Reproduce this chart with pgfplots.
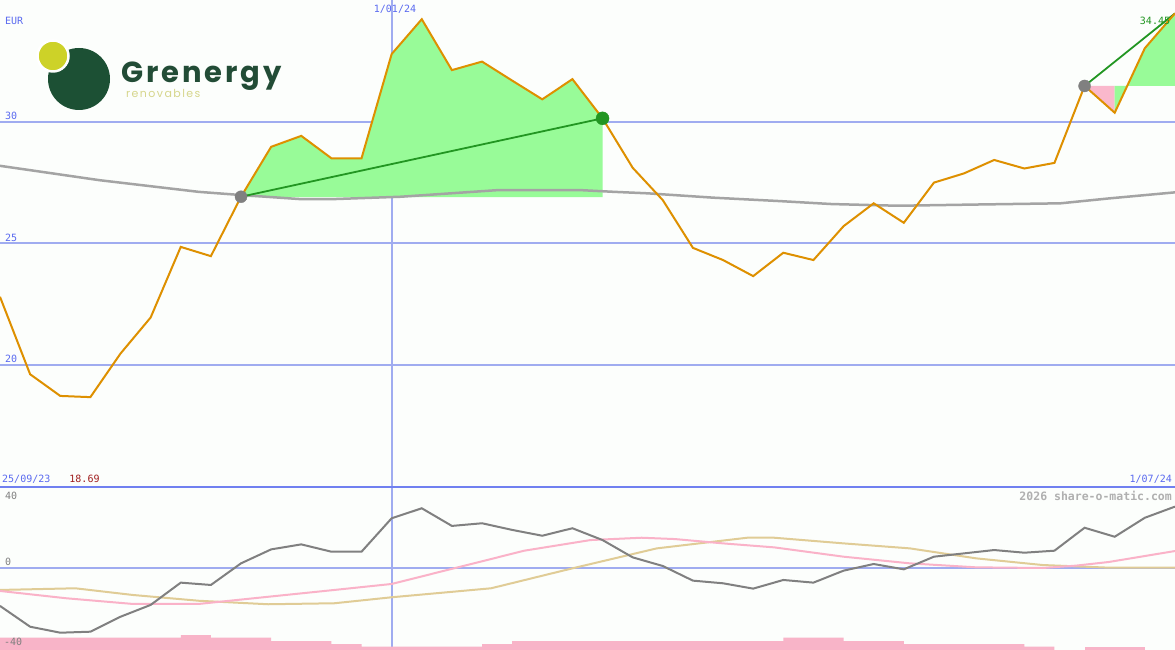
\documentclass[border=0pt]{standalone}
\usepackage{pgfplots}
\pgfplotsset{compat=1.18}
\usepackage{pgfplotstable}
\usepackage{fontspec}
\newfontfamily\chartmono{DejaVu Sans Mono}
\newfontfamily\logofont{Poppins}

\definecolor{bgc}{RGB}{252,254,252}
\definecolor{gridc}{RGB}{160,172,240}
\definecolor{sepc}{RGB}{112,128,240}
\definecolor{labelc}{RGB}{90,106,240}
\definecolor{pricec}{RGB}{222,144,0}
\definecolor{fillg}{RGB}{152,251,152}
\definecolor{fillp}{RGB}{250,184,204}
\definecolor{trendg}{RGB}{34,150,34}
\definecolor{mac}{RGB}{164,164,164}
\definecolor{momc}{RGB}{128,128,128}
\definecolor{pinkc}{RGB}{250,178,200}
\definecolor{tanc}{RGB}{224,204,150}
\definecolor{barc}{RGB}{248,180,200}
\definecolor{minc}{RGB}{160,30,30}
\definecolor{logog}{RGB}{28,80,52}
\definecolor{logoy}{RGB}{205,210,40}
\definecolor{logot}{RGB}{34,76,54}
\definecolor{logor}{RGB}{214,214,140}
\definecolor{wmc}{RGB}{176,176,176}

% daily close, index 0 = 25/09/23
\pgfplotstableread{
x  close
0  22.81
1  19.63
2  18.74
3  18.69
4  20.48
5  21.96
6  24.86
7  24.48
8  26.92
9  28.97
10 29.42
11 28.50
12 28.50
13 32.78
14 34.21
15 32.12
16 32.47
17 31.69
18 30.92
19 31.75
20 30.14
21 28.11
22 26.78
23 24.82
24 24.32
25 23.66
26 24.62
27 24.32
28 25.71
29 26.65
30 25.85
31 27.50
32 27.88
33 28.43
34 28.08
35 28.31
36 31.47
37 30.37
38 33.02
39 34.45
}\pricetab

% momentum
\pgfplotstableread{
x  mom
0  -22.5
1  -35.0
2  -38.6
3  -38.0
4  -29.0
5  -21.9
6  -8.5
7  -9.9
8  3.1
9  11.5
10 14.5
11 10.1
12 10.1
13 30.2
14 36.2
15 25.6
16 27.2
17 23.2
18 19.7
19 24.2
20 17.1
21 6.7
22 1.5
23 -7.3
24 -8.9
25 -12.1
26 -6.9
27 -8.5
28 -1.3
29 2.7
30 -0.5
31 7.1
32 9.1
33 11.1
34 9.5
35 10.7
36 24.5
37 19.1
38 30.5
39 37.2
}\momtab

\begin{document}
\begin{tikzpicture}[x=1pt,y=1pt]
\useasboundingbox (0,0) rectangle (1175,650);
\fill[bgc] (0,0) rectangle (1175,650);

\pgfplotsset{panel/.style={
    scale only axis, width=1175pt,
    xmin=0, xmax=39,
    axis line style={draw=none},
    major tick length=0pt,
    xticklabels={}, yticklabels={},
    xtick={13},
    grid=major,
    major grid style={gridc, line width=2pt},
}}

% price panel
\begin{axis}[panel, at={(0pt,163pt)}, height=487pt,
    ymin=15, ymax=35, ytick={20,25,30}]
\addplot[fill=fillg, draw=none] coordinates {
    (8,26.9) (8,26.92) (9,28.97) (10,29.42) (11,28.50) (12,28.50) (13,32.78)
    (14,34.21) (15,32.12) (16,32.47) (17,31.69) (18,30.92) (19,31.75)
    (20,30.14) (20,26.9)} -- cycle;
\addplot[fill=fillp, draw=none] coordinates {
    (36,31.47) (37,30.37) (37,31.47)} -- cycle;
\addplot[fill=fillg, draw=none] coordinates {
    (37,31.47) (37,30.37) (38,33.02) (39,34.45) (39,31.47)} -- cycle;
% long moving average
\addplot[mac, line width=2.5pt] coordinates {
    (0,28.19) (3.3,27.60) (6.6,27.12) (8,26.99) (10,26.82) (11,26.82)
    (13.3,26.92) (16.5,27.19) (19.3,27.19) (20.4,27.12) (21.5,27.06)
    (23.7,26.88) (25.9,26.74) (27.6,26.62) (29.8,26.55) (32.4,26.60)
    (35.2,26.65) (36.8,26.85) (39,27.10)};
\addplot[trendg, line width=1.8pt] coordinates {(8,26.92) (20,30.14)};
\addplot[trendg, line width=1.8pt] coordinates {(36,31.47) (39,34.45)};
\addplot[pricec, line width=2pt] table[x=x, y=close] {\pricetab};
\addplot[only marks, mark=*, mark size=6pt, mark options={fill=momc, draw=momc}]
    coordinates {(8,26.92) (36,31.47)};
\addplot[only marks, mark=*, mark size=6.5pt, mark options={fill=trendg, draw=trendg}]
    coordinates {(20,30.14)};
\end{axis}

% indicator panel
\begin{axis}[panel, at={(0pt,0pt)}, height=163pt,
    ymin=-49, ymax=49, ytick={0}]
\addplot[fill=barc, draw=none] coordinates {
    (0,-60) (0,-41.6) (6,-41.6) (6,-40) (7,-40) (7,-41.6) (9,-41.6) (9,-43.6)
    (11,-43.6) (11,-45.4) (12,-45.4) (12,-47) (16,-47) (16,-45.4) (17,-45.4)
    (17,-43.6) (26,-43.6) (26,-41.6) (28,-41.6) (28,-43.6) (30,-43.6)
    (30,-45.4) (34,-45.4) (34,-47) (35,-47) (35,-60)} -- cycle;
\addplot[fill=barc, draw=none] coordinates {
    (36,-60) (36,-47) (38,-47) (38,-60)} -- cycle;
\addplot[tanc, line width=2pt] coordinates {
    (0,-12.9) (2.5,-11.9) (4.4,-15.9) (6.6,-19.4) (8.9,-21.5) (11.1,-20.9)
    (13.0,-17.3) (16.3,-11.9) (19.0,0.1) (21.8,12.1) (24.8,18.5) (25.7,18.5)
    (28.0,15.1) (30.2,12.1) (32.4,6.1) (34.6,2.1) (36.8,0.5) (39,0.5)};
\addplot[pinkc, line width=2pt] coordinates {
    (0,-13.5) (2.2,-17.9) (4.4,-21.3) (6.6,-21.3) (8.9,-17.0) (11.1,-12.9)
    (13.0,-9.3) (15.2,0.7) (17.4,10.7) (19.6,17.1) (21.3,18.5) (22.4,17.7)
    (24.0,15.1) (25.7,12.7) (28.0,7.1) (30.2,3.1) (32.4,0.7) (34.6,0.3)
    (35.7,1.7) (36.8,3.9) (39,10.5)};
\addplot[momc, line width=2pt] table[x=x, y=mom] {\momtab};
\end{axis}

\draw[sepc, line width=2.2pt] (0,163) -- (1175,163);

% logo
\fill[logog] (79,571) circle (31);
\fill[logoy, draw=white, line width=2.5pt] (53,594) circle (15.5);
\node[anchor=base west, inner sep=0pt, text=logot] at (121,567)
    {\logofont\bfseries\fontsize{29}{30}\selectfont\addfontfeatures{LetterSpace=10}Grenergy};
\node[anchor=base west, inner sep=0pt, text=logor] at (126,552)
    {\logofont\fontsize{11}{12}\selectfont\addfontfeatures{LetterSpace=13}renovables};

% labels
\begin{scope}[every node/.style={inner sep=0pt, font=\chartmono\fontsize{10}{11}\selectfont}]
\node[anchor=west, text=labelc] at (5,629) {EUR};
\node[anchor=west, text=labelc] at (5,534) {30};
\node[anchor=west, text=labelc] at (5,412) {25};
\node[anchor=west, text=labelc] at (5,291) {20};
\node[text=labelc] at (395,641) {1/01/24};
\node[anchor=west, text=labelc] at (2,171) {25/09/23};
\node[text=minc] at (84.5,171) {18.69};
\node[anchor=east, text=labelc] at (1172,171) {1/07/24};
\node[text=trendg] at (1155,629) {34.45};
\node[anchor=west, text=momc] at (5,154) {40};
\node[anchor=west, text=momc] at (5,88) {0};
\node[anchor=west, text=momc] at (4,8) {-40};
\node[anchor=east, text=wmc, font=\chartmono\bfseries\fontsize{11.5}{12}\selectfont] at (1172,154) {2026 share-o-matic.com};
\end{scope}
\end{tikzpicture}
\end{document}
